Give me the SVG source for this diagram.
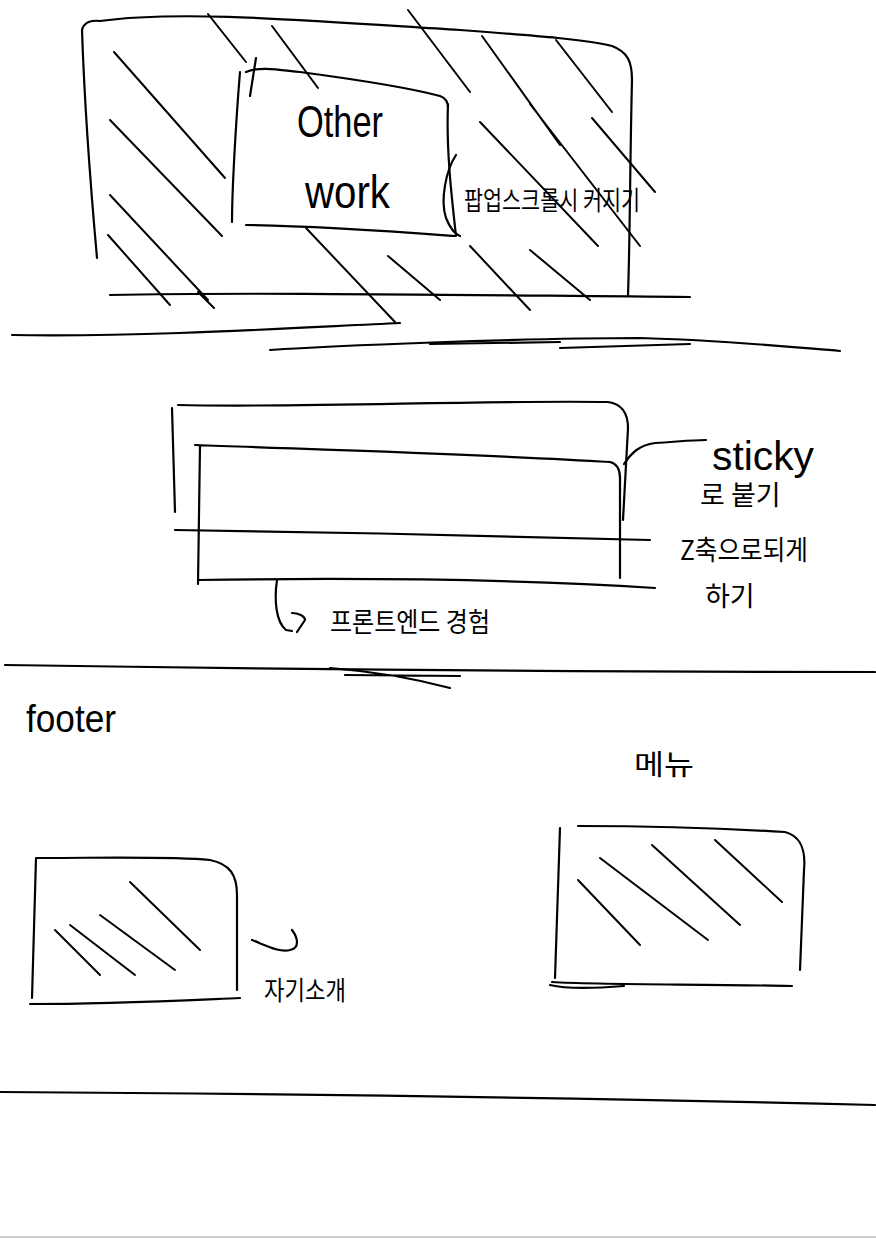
<svg xmlns="http://www.w3.org/2000/svg" width="876" height="1239" viewBox="0 0 876 1239">
<style>
.s{fill:none;stroke:#000;stroke-width:2.2;stroke-linecap:round;stroke-linejoin:round}
.h{fill:none;stroke:#000;stroke-width:2;stroke-linecap:round}
.t{font-family:"Liberation Sans","Noto Sans CJK KR",sans-serif;fill:#000}
.k{font-family:"Noto Sans CJK KR","Liberation Sans",sans-serif;fill:#000}
</style>
<rect width="876" height="1239" fill="#fff"/>
<g id="other-work-section">
<path class="s" d="M97,258 C90,180 84,90 82,30 C84,22 92,20 100,21 C180,10 300,20 460,30 C540,36 590,40 612,46 C628,52 632,62 632,80 C630,160 630,240 628,295"/>
<path class="s" d="M110,295 C250,292 450,295 690,297"/>
<path class="h" d="M114,52 L225,178 M110,120 L222,236 M110,195 L208,300 M108,235 L170,305 M198,292 L214,308 M208,14 L246,62 M272,26 L318,88 M408,10 L470,92 M482,36 L560,145 M556,40 L612,112 M592,118 L655,192 M530,104 L640,246 M480,122 L598,246 M306,228 L395,322 M388,256 L440,300 M470,246 L530,310 M530,250 L590,300"/>
</g>
<g id="other-work">
<path class="s" d="M240,72 C236,120 232,190 232,222 M246,225 C320,226 400,232 455,236 M448,104 C446,150 452,200 456,236 M246,72 C260,66 280,70 300,72 C360,80 410,88 440,96 C446,98 448,102 448,108"/>
<path class="s" d="M256,58 L250,96"/>
<text class="t" x="297" y="137" font-size="44" font-weight="300" textLength="86" lengthAdjust="spacingAndGlyphs">Other</text>
<text class="t" x="305" y="208" font-size="46" font-weight="300" textLength="85" lengthAdjust="spacingAndGlyphs">work</text>
</g>
<g id="scroll-note">
<path class="s" d="M456,155 C446,170 440,200 446,218 C450,228 455,234 460,236"/>
<text class="k" x="464" y="210" font-size="26" textLength="176" lengthAdjust="spacingAndGlyphs">팝업스크롤시 커지기</text>
</g>
<g id="separator-1">
<path class="s" d="M12,335 C150,337 290,328 400,323"/>
<path class="s" d="M270,350 C330,346 520,338 640,338 C720,340 780,346 840,351"/>
<path class="s" d="M430,344 L560,342 M560,348 L690,344"/>
</g>
<g id="header-bar">
<path class="s" d="M172,408 L175,512 M178,405 C300,408 480,400 608,402 C622,404 628,414 628,428 L623,520"/>
<path class="s" d="M175,530 C330,532 500,536 650,540"/>
<path class="s" d="M195,445 C330,450 500,455 610,462 C618,464 620,470 620,478 L620,578 M200,446 L198,584 M198,580 C330,578 500,578 655,588"/>
</g>
<g id="connectors">
<path class="s" d="M624,464 C632,452 640,445 655,443 C675,442 690,440 706,440"/>
<path class="s" d="M277,580 C274,600 276,622 286,630 L292,631"/>
<path class="s" d="M292,613 C298,613 305,616 305,620 L297,632"/>
</g>
<g id="sticky-note">
<text class="t" x="712" y="470" font-size="40" font-weight="300" textLength="102" lengthAdjust="spacingAndGlyphs">sticky</text>
<text class="k" x="700" y="505" font-size="27">로 붙기</text>
<text class="k" x="680" y="560" font-size="27" textLength="128" lengthAdjust="spacingAndGlyphs">Z축으로되게</text>
<text class="k" x="705" y="606" font-size="27">하기</text>
</g>
<g id="frontend-note">
<text class="k" x="330" y="632" font-size="27" textLength="160" lengthAdjust="spacingAndGlyphs">프론트엔드 경험</text>
</g>
<g id="separator-2">
<path class="s" d="M5,665 C200,668 500,672 875,672"/>
<path class="s" d="M330,668 C380,672 420,680 450,688 M345,675 L460,676"/>
</g>
<g id="footer-label">
<text class="t" x="26" y="732" font-size="38" font-weight="300" textLength="90" lengthAdjust="spacingAndGlyphs">footer</text>
</g>
<g id="menu-label">
<text class="k" x="634" y="775" font-size="28" textLength="60" lengthAdjust="spacingAndGlyphs">메뉴</text>
</g>
<g id="intro-box">
<path class="s" d="M36,858 L32,998 M36,858 C100,858 170,856 210,860 C230,864 237,875 237,895 L237,990 M30,1004 C110,1004 190,1000 240,998"/>
<path class="h" d="M55,930 L100,975 M70,925 L135,975 M100,915 L175,970 M130,882 L200,950"/>
</g>
<g id="intro-note">
<path class="s" d="M252,940 C265,945 280,953 290,950 C300,948 298,938 292,930"/>
<text class="k" x="264" y="1000" font-size="26" textLength="82" lengthAdjust="spacingAndGlyphs">자기소개</text>
</g>
<g id="menu-box">
<path class="s" d="M560,828 L555,978 M578,826 C650,826 720,828 785,832 C800,836 806,848 804,870 L800,970 M552,982 C600,985 700,984 792,986 M550,985 C570,990 600,988 624,986"/>
<path class="h" d="M578,880 L640,945 M600,858 L708,940 M652,845 L740,925 M715,840 L782,902"/>
</g>
<g id="separator-3">
<path class="s" d="M0,1092 C300,1094 600,1098 875,1105"/>
</g>
<path d="M0,1237 L876,1237" stroke="#bbb" stroke-width="1.5"/>
</svg>
